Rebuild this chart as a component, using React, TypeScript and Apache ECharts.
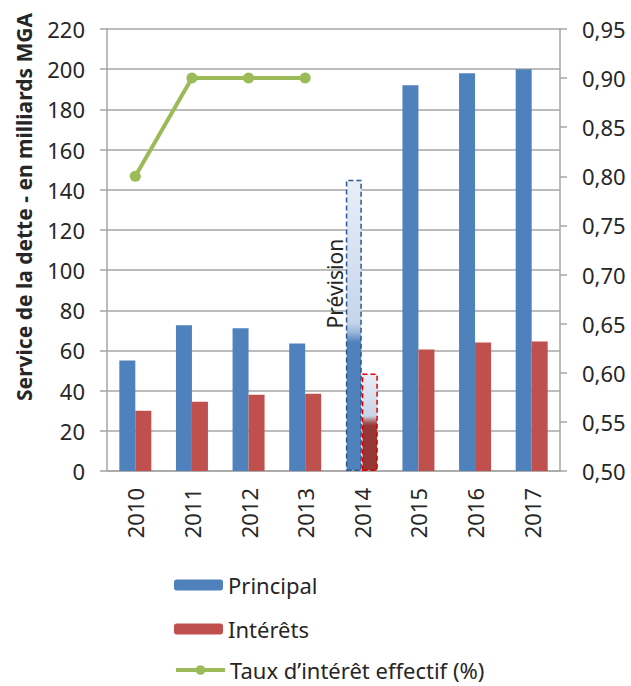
import React, { useEffect, useRef } from "react";
import * as echarts from "echarts";

const years = ["2010", "2011", "2012", "2013", "2014", "2015", "2016", "2017"];
const principal = [55, 72.5, 71, 63.5, 145, 192, 198, 200];
const interets = [30, 34.5, 38, 38.5, 48.5, 60.5, 64, 64.5];
const taux: (number | null)[] = [0.8, 0.9, 0.9, 0.9, null, null, null, null];
const forecastIndex = 4;
const principalRealise = 64;
const interetsRealise = 22.5;
const legendNames = ["Principal", "Intérêts", "Taux d’intérêt effectif (%)"];
const yTitle = "Service de la dette - en milliards MGA";
const forecastLabel = "Prévision";

const FONT = '"Noto Sans", "Open Sans", sans-serif';
const TXT = "#262626";
const GRID = "#a6a6a6";
const BLUE = "#4F81BD";
const RED = "#C0504D";
const GREEN = "#9BBB59";
const FS = 22;

function principalGradient(total: number, done: number) {
  const s = 1 - done / total;
  return {
    type: "linear",
    x: 0,
    y: 0,
    x2: 0,
    y2: 1,
    colorStops: [
      { offset: 0, color: "#e8eef7" },
      { offset: Math.max(0, s - 0.07), color: "#c6d5ea" },
      { offset: Math.max(0, s - 0.035), color: "#9db8dc" },
      { offset: s, color: BLUE },
      { offset: 1, color: BLUE },
    ],
  };
}

function interetsGradient(total: number, done: number) {
  const s = 1 - done / total;
  return {
    type: "linear",
    x: 0,
    y: 0,
    x2: 0,
    y2: 1,
    colorStops: [
      { offset: 0, color: "#e8eef7" },
      { offset: Math.max(0, s - 0.1), color: "#c8d4e8" },
      { offset: Math.max(0, s - 0.04), color: "#a86262" },
      { offset: s, color: "#953735" },
      { offset: 1, color: "#953735" },
    ],
  };
}

export default function App() {
  const ref = useRef<HTMLDivElement>(null);
  useEffect(() => {
    document.body.style.margin = "0";
    if (!ref.current) return;
    const chart = echarts.init(ref.current, null, { renderer: "svg" });

    const principalData = principal.map((v, i) =>
      i === forecastIndex
        ? {
            value: v,
            itemStyle: {
              color: principalGradient(v, principalRealise),
              borderColor: "#2c5a90",
              borderWidth: 1.5,
              borderType: [5, 3],
            },
            label: {
              show: true,
              formatter: forecastLabel,
              position: [-11, 104],
              rotate: 90,
              align: "center",
              verticalAlign: "middle",
              fontSize: 21,
              fontFamily: FONT,
              color: TXT,
            },
          }
        : v
    );
    const interetsData = interets.map((v, i) =>
      i === forecastIndex
        ? {
            value: v,
            itemStyle: {
              color: interetsGradient(v, interetsRealise),
              borderColor: "#e00000",
              borderWidth: 1.5,
              borderType: [5, 3],
            },
          }
        : v
    );

    const legendTops = [574, 618, 659];
    const legends = legendNames.map((name, i) => ({
      orient: "vertical",
      left: 174,
      top: legendTops[i],
      padding: 0,
      itemWidth: 49,
      itemHeight: i === 2 ? 12 : 11,
      data: [name],
      lineStyle: i === 2 ? { width: 4, color: GREEN } : undefined,
      textStyle: { fontSize: FS, lineHeight: 22, color: TXT, fontFamily: FONT },
    }));

    chart.setOption({
      animation: false,
      textStyle: { fontFamily: FONT },
      grid: { left: 107, right: 71, top: 29, bottom: 215 },
      legend: legends,
      xAxis: {
        type: "category",
        data: years,
        axisLine: { lineStyle: { color: GRID, width: 1.5 } },
        axisTick: { show: false },
        axisLabel: {
          rotate: 90,
          interval: 0,
          margin: 17,
          fontSize: FS,
          color: TXT,
          fontFamily: FONT,
        },
      },
      yAxis: [
        {
          type: "value",
          min: 0,
          max: 220,
          interval: 20,
          axisLine: { show: true, lineStyle: { color: GRID, width: 1.5 } },
          axisTick: { show: true, length: 7, lineStyle: { color: GRID, width: 1.5 } },
          splitLine: { lineStyle: { color: GRID, width: 1.5 } },
          axisLabel: { fontSize: FS, color: TXT, margin: 22, fontFamily: FONT },
        },
        {
          type: "value",
          min: 0.5,
          max: 0.95,
          interval: 0.05,
          position: "right",
          axisLine: { show: true, lineStyle: { color: GRID, width: 1.5 } },
          axisTick: { show: true, length: 7, lineStyle: { color: GRID, width: 1.5 } },
          splitLine: { show: false },
          axisLabel: {
            fontSize: FS,
            color: TXT,
            margin: 22,
            fontFamily: FONT,
            formatter: (v: number) => v.toFixed(2).replace(".", ","),
          },
        },
      ],
      graphic: [
        {
          type: "text",
          x: 24,
          y: 207,
          rotation: Math.PI / 2,
          style: {
            text: yTitle,
            fontSize: 21,
            fontWeight: "bold",
            fontFamily: FONT,
            fill: TXT,
            align: "center",
            verticalAlign: "middle",
          },
        },
      ],
      series: [
        {
          name: legendNames[0],
          type: "bar",
          data: principalData,
          barWidth: 16,
          barGap: "0%",
          itemStyle: { color: BLUE },
        },
        {
          name: legendNames[1],
          type: "bar",
          data: interetsData,
          barWidth: 16,
          barGap: "0%",
          itemStyle: { color: RED },
        },
        {
          name: legendNames[2],
          type: "line",
          yAxisIndex: 1,
          data: taux,
          symbol: "circle",
          symbolSize: 11,
          lineStyle: { color: GREEN, width: 4 },
          itemStyle: { color: GREEN },
        },
      ],
    });
    return () => chart.dispose();
  }, []);
  return <div ref={ref} style={{ width: 631, height: 686 }} />;
}
